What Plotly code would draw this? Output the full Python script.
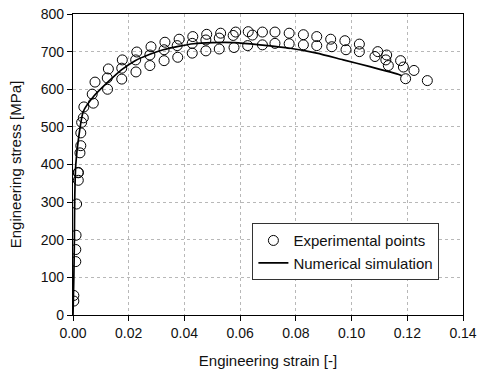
import plotly.graph_objects as go

# Experimental points (strain [-], stress [MPa])
exp_strain = [0.0003, 0.0003, 0.0010, 0.0010, 0.0011, 0.0013, 0.0019, 0.0019,
              0.0019, 0.0025, 0.0028, 0.0028, 0.0031, 0.0037, 0.0039,
              0.0073, 0.0069, 0.0079, 0.0124, 0.0123, 0.0127,
              0.0175, 0.0175, 0.0177, 0.0226, 0.0225, 0.0229,
              0.0276, 0.0276, 0.0280, 0.0327, 0.0327, 0.0330,
              0.0376, 0.0374, 0.0381, 0.0428, 0.0428, 0.0430,
              0.0477, 0.0477, 0.0480, 0.0525, 0.0525, 0.0530,
              0.0578, 0.0575, 0.0584, 0.0627, 0.0629, 0.0644,
              0.0680, 0.0680, 0.0725, 0.0725, 0.0776, 0.0776,
              0.0827, 0.0827, 0.0875, 0.0875, 0.0925, 0.0929,
              0.0976, 0.0980, 0.1028, 0.1028, 0.1094, 0.1084,
              0.1126, 0.1123, 0.1132, 0.1176, 0.1186, 0.1224,
              0.1194, 0.1272]
exp_stress = [37, 52, 142, 174, 212, 295, 358, 378,
              379, 431, 450, 484, 512, 524, 553,
              563, 587, 619, 600, 630, 654,
              627, 656, 678, 646, 678, 699,
              663, 691, 713, 676, 705, 725,
              685, 716, 733, 696, 722, 740,
              702, 731, 746, 707, 736, 749,
              711, 743, 752, 716, 753, 744,
              718, 752, 722, 752, 721, 749,
              718, 745, 716, 740, 733, 713,
              729, 705, 720, 700, 700, 687,
              691, 678, 663, 676, 659, 650,
              628, 623]

# Numerical simulation curve
sim_strain = [0.0, 0.0003, 0.0005, 0.0006, 0.0010, 0.0020, 0.0037, 0.0073,
              0.0121, 0.0175, 0.0223, 0.0276, 0.0324, 0.0378, 0.0432,
              0.0500, 0.0580, 0.0671, 0.0779, 0.0875, 0.0970, 0.1066,
              0.1174, 0.1180]
sim_stress = [0, 100, 200, 300, 400, 470, 541, 580,
              616, 652, 676, 693, 705, 714, 721,
              724, 724, 718, 709, 696, 678, 660,
              638, 636]

fig = go.Figure()
fig.add_trace(go.Scatter(
    x=exp_strain, y=exp_stress, mode="markers", name="Experimental points",
    marker=dict(symbol="circle-open", size=10, color="black", line=dict(width=1, color="black")),
))
fig.add_trace(go.Scatter(
    x=sim_strain, y=sim_stress, mode="lines", name="Numerical simulation",
    line=dict(color="black", width=1.7, shape="spline", smoothing=0.6),
))

axis_common = dict(
    showline=True, linecolor="black", linewidth=1.3, mirror=True,
    ticks="outside", ticklen=5, tickcolor="black",
    showgrid=True, gridcolor="#b8b8b8", griddash="dot", gridwidth=1,
    zeroline=False, automargin=False,
    tickfont=dict(family="Arial, Liberation Sans", size=14, color="#111"),
    title_font=dict(family="Arial, Liberation Sans", size=15, color="#111"),
)

fig.update_xaxes(range=[0, 0.14], dtick=0.02, tickformat=".2f",
                 title_text="Engineering strain [-]", **axis_common)
fig.update_yaxes(range=[0, 800], dtick=100,
                 title_text="Engineering stress [MPa]", **axis_common)

fig.update_layout(
    width=478, height=371,
    margin=dict(l=73, r=15, t=14, b=56),
    plot_bgcolor="white", paper_bgcolor="white",
    showlegend=True,
    legend=dict(x=0.46, y=0.305, xanchor="left", yanchor="top",
                bgcolor="white", bordercolor="#333", borderwidth=1,
                font=dict(family="Arial, Liberation Sans", size=15, color="#111"),
                tracegroupgap=0, itemwidth=30),
)

fig.write_html("out.html")
